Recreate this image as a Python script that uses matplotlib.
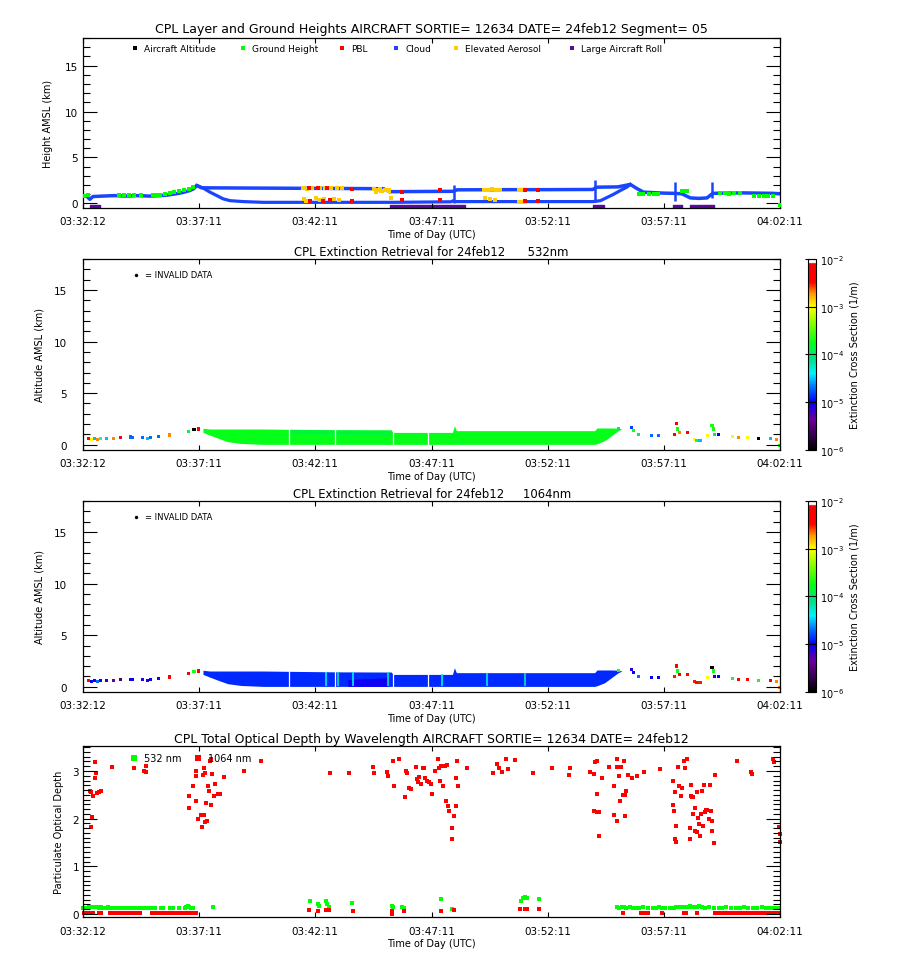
import numpy as np
import matplotlib
matplotlib.use("Agg")
import matplotlib.pyplot as plt
from matplotlib.colors import LinearSegmentedColormap, LogNorm
from matplotlib.ticker import MultipleLocator
import matplotlib.cm as cm

# time axis: seconds after 03:32:12 UTC
tick_sec = [0, 299, 599, 899, 1199, 1499, 1799]
tick_lab = ["03:32:12", "03:37:11", "03:42:11", "03:47:11", "03:52:11", "03:57:11", "04:02:11"]

# ---- panel 1 : layer heights (km)
top_t = [0, 10, 17, 25, 50, 80, 110, 140, 170, 200, 215, 240, 258, 275, 285, 293, 305, 400, 500, 600, 700, 775,
         790, 955, 965, 1100, 1200, 1315, 1326, 1380, 1412, 1430, 1446, 1500, 1525, 1545, 1567, 1590, 1610, 1625,
         1700, 1780, 1799]
top_h = [0.8, 0.75, 0.45, 0.75, 0.8, 0.85, 0.8, 0.85, 0.8, 0.85, 0.9, 1.05, 1.2, 1.4, 1.6, 1.96, 1.7, 1.68, 1.66,
         1.64, 1.62, 1.6, 1.28, 1.32, 1.48, 1.5, 1.5, 1.52, 1.77, 1.8, 2.07, 1.6, 1.23, 1.12, 1.1, 1.05, 0.6, 0.55,
         0.6, 1.1, 1.15, 1.1, 1.05]
low_t = [293, 310, 327, 344, 361, 379, 413, 465, 800, 950, 955, 960, 1315, 1335, 1352, 1369, 1386, 1404, 1412]
low_h = [1.96, 1.66, 1.23, 0.87, 0.5, 0.3, 0.2, 0.12, 0.12, 0.18, 0.3, 0.2, 0.2, 0.3, 0.65, 1.0, 1.4, 1.8, 2.07]
spike_t = [956, 1320, 1528, 1623]
spike_lo = [0.1, 0.2, 0.3, 0.6]
spike_hi = [2.0, 2.5, 2.3, 2.35]
ground_t = [2, 12, 93, 105, 118, 130, 148, 179, 190, 198, 210, 223, 235, 247, 260, 272, 284,
            1434, 1446, 1460, 1472, 1484, 1545, 1552, 1558, 1644, 1656, 1668, 1680, 1694, 1731, 1744, 1756, 1768, 1780, 1799]
ground_h = [0.83, 0.9, 0.9, 0.9, 0.92, 0.9, 0.9, 0.94, 0.94, 0.95, 1.0, 1.12, 1.27, 1.38, 1.49, 1.6, 1.74,
            1.0, 1.0, 0.98, 1.0, 1.02, 1.38, 1.35, 1.3, 1.09, 1.1, 1.08, 1.1, 1.09, 0.85, 0.83, 0.86, 0.83, 0.85, -0.2]
aer_t = [568, 578, 590, 612, 625, 640, 655, 668, 570, 575, 600, 610, 622, 636, 648, 660,
         750, 758, 765, 772, 780, 788, 755, 768, 778, 790, 794, 1035, 1045, 1055, 1065, 1075, 1038, 1050, 1062,
         1125, 1132, 1138, 1126, 1134]
aer_h = [1.65, 1.62, 1.66, 1.64, 1.65, 1.63, 1.66, 1.64, 0.45, 0.3, 0.55, 0.4, 0.5, 0.35, 0.45, 0.4,
         1.55, 1.45, 1.6, 1.35, 1.5, 1.4, 1.25, 1.3, 1.45, 1.5, 0.6, 1.5, 1.5, 1.52, 1.5, 1.5, 0.55, 0.5, 0.35,
         1.5, 1.5, 1.5, 0.2, 0.2]
pbl_t = [583, 607, 628, 693, 585, 620, 637, 693, 824, 824, 922, 922, 1141, 1175, 1141, 1175]
pbl_h = [1.65, 1.66, 1.64, 1.62, 0.3, 0.25, 0.35, 0.25, 1.23, 0.35, 1.45, 0.35, 1.5, 1.5, 0.3, 0.3]
roll_start = [17, 792, 1317, 1522, 1567]
roll_end = [43, 986, 1343, 1545, 1627]

# ---- panels 2/3 : extinction layer geometry (km) and values (1/m)
lay_t = [309, 326, 349, 373, 407, 465, 528, 649, 795, 800, 953, 958, 963, 1320, 1326, 1346, 1364, 1381, 1389]
lay_top = [1.6, 1.53, 1.53, 1.53, 1.53, 1.53, 1.5, 1.45, 1.43, 1.2, 1.2, 1.85, 1.37, 1.37, 1.63, 1.63, 1.63, 1.6, 1.55]
lay_base = [1.2, 0.95, 0.62, 0.3, 0.13, 0.04, 0.04, 0.04, 0.04, 0.04, 0.04, 0.04, 0.04, 0.04, 0.1, 0.4, 0.9, 1.37, 1.5]
ext532_layer = 1.8e-4
ext1064_layer = 1.3e-5
light532_t = [530, 650, 795]
light532_top = [1.5, 1.45, 1.43]
light532_base = [1.05, 1.0, 0.95]
light532_val = 1.4e-4
dark1064_t = [683, 740, 787]
dark1064_top = [0.7, 0.8, 0.9]
dark1064_base = [0.04, 0.04, 0.04]
dark1064_val = 9e-6
gap_t = [530, 651, 799, 889]
stripe_t = [626, 658, 695, 787, 926, 1043, 1141]
stripe_top = [1.45, 1.45, 1.44, 1.43, 1.2, 1.37, 1.37]
stripe_v = [4e-5, 6e-5, 4e-5, 6e-5, 4e-5, 5e-5, 6e-5]

sp_t = [13, 21, 29, 36, 44, 61, 79, 96, 121, 128, 154, 165, 174, 194, 223, 272, 286, 298,
        1381, 1415, 1421, 1433, 1467, 1485, 1525, 1531, 1534, 1539, 1560, 1577, 1583, 1592, 1611, 1623, 1626,
        1629, 1640, 1675, 1692, 1715, 1742, 1773, 1790, 1798]
sp_h = [0.62, 0.55, 0.62, 0.55, 0.62, 0.62, 0.62, 0.68, 0.75, 0.72, 0.72, 0.62, 0.68, 0.8, 0.95, 1.27, 1.46, 1.53,
        1.6, 1.69, 1.37, 1.04, 0.88, 0.88, 1.04, 2.02, 1.53, 1.2, 1.2, 0.55, 0.39, 0.45, 0.88, 1.85, 1.53,
        1.04, 1.04, 0.8, 0.72, 0.72, 0.62, 0.62, 0.55, -0.1]
sp532_v = [5e-3, 1e-3, 3e-5, 2e-3, 4e-5, 3e-5, 2e-3, 5e-3, 2e-5, 2e-5, 2e-5, 3e-5, 2e-5, 2e-5, 2e-3, 1.5e-4, 1e-6, 5e-3,
           8e-5, 1.5e-5, 2e-4, 1e-4, 2e-5, 2e-5, 5e-3, 5e-3, 2e-4, 2e-3, 5e-3, 1e-3, 2e-4, 3e-5, 1e-3, 2e-4, 2e-4,
           1e-4, 1e-5, 1e-3, 2e-3, 1e-3, 1e-6, 3e-5, 2e-3, 2e-4]
sp1064_v = [5e-3, 1e-5, 8e-6, 2e-5, 1e-5, 8e-6, 5e-6, 3e-6, 8e-6, 1e-5, 8e-6, 8e-6, 1e-5, 8e-6, 5e-3, 5e-3, 2e-4, 5e-3,
            2e-4, 8e-6, 1e-5, 2e-5, 1e-5, 1e-5, 3e-3, 5e-3, 2e-4, 5e-3, 5e-3, 3e-3, 5e-3, 3e-3, 1e-3, 1e-6, 2e-4,
            8e-6, 1e-5, 2e-4, 5e-3, 5e-3, 2e-4, 5e-3, 2e-3, 2e-3]

# ---- panel 4 : optical depth
od532_t = [0, 5, 10, 15, 20, 25, 30, 35, 40, 46, 52, 58, 64, 70, 76, 82, 88, 94, 100, 108, 114, 120, 130, 136, 142,
           148, 158, 164, 170, 180, 186, 200, 206, 225, 231, 248, 262, 266, 270, 274, 278, 282, 336,
           584, 605, 608, 626, 630, 634, 694, 797, 799, 824, 827, 924, 953, 1130, 1136, 1140, 1146, 1177,
           1378, 1384, 1390, 1396, 1402, 1410, 1418, 1426, 1434, 1446, 1458, 1470, 1478, 1486, 1494, 1502, 1514,
           1524, 1530, 1536, 1542, 1548, 1554, 1560, 1566, 1572, 1578, 1584, 1590, 1598, 1606, 1614, 1628, 1640,
           1650, 1660, 1672, 1684, 1694, 1706, 1716, 1728, 1740, 1752, 1762, 1772, 1782, 1790, 1797]
od532_v = [0.12, 0.13, 0.13, 0.14, 0.14, 0.15, 0.14, 0.14, 0.13, 0.14, 0.13, 0.13, 0.14, 0.13, 0.13, 0.12, 0.13,
           0.13, 0.12, 0.13, 0.12, 0.13, 0.12, 0.13, 0.12, 0.13, 0.12, 0.13, 0.12, 0.12, 0.13, 0.12, 0.13, 0.12,
           0.12, 0.12, 0.12, 0.14, 0.16, 0.15, 0.13, 0.12, 0.15,
           0.27, 0.21, 0.16, 0.27, 0.21, 0.15, 0.22, 0.17, 0.14, 0.15, 0.13, 0.31, 0.10, 0.28, 0.33, 0.36, 0.33, 0.31,
           0.14, 0.13, 0.15, 0.14, 0.13, 0.14, 0.13, 0.12, 0.13, 0.14, 0.13, 0.12, 0.13, 0.14, 0.13, 0.12, 0.13,
           0.13, 0.14, 0.15, 0.14, 0.15, 0.14, 0.15, 0.16, 0.15, 0.14, 0.15, 0.16, 0.14, 0.13, 0.14, 0.13, 0.12,
           0.13, 0.14, 0.13, 0.12, 0.13, 0.14, 0.13, 0.12, 0.13, 0.14, 0.13, 0.12, 0.13, 0.12, 0.12]
od1064_t = [17, 20, 22, 21, 26, 30, 32, 31, 36, 41, 47, 74, 130, 163, 158, 163,
            272, 274, 284, 290, 292, 290, 296, 303, 306, 311, 314, 317, 319, 309, 312, 315, 321, 324, 327, 330,
            331, 333, 338, 341, 348, 353, 364, 416, 458,
            636, 685, 747, 750, 784, 787, 799, 803, 815, 830, 834, 835, 842, 847, 858, 861, 863, 867, 871, 877,
            880, 883, 887, 892, 898, 901, 909, 915, 918, 920, 924, 929, 934, 936, 940, 942, 945, 951, 953, 957,
            961, 963, 966, 968, 990,
            1058, 1068, 1074, 1080, 1090, 1097, 1115, 1161, 1210, 1256, 1253,
            1309, 1318, 1321, 1325, 1327, 1319, 1325, 1330, 1330, 1340, 1358, 1371, 1371, 1377, 1377, 1379, 1383,
            1385, 1389, 1393, 1395, 1398, 1399, 1402, 1405, 1416, 1430, 1447, 1488,
            1521, 1522, 1525, 1527, 1531, 1527, 1529, 1534, 1537, 1544, 1546, 1550, 1552, 1558, 1565, 1566, 1568,
            1569, 1571, 1574, 1574, 1578, 1580, 1583, 1584, 1587, 1590, 1593, 1595, 1597, 1599, 1602, 1605, 1608,
            1611, 1615, 1617, 1621, 1624, 1624, 1627, 1630, 1688, 1723, 1725, 1781, 1784, 1796, 1799, 1799,
            3, 8, 14, 20, 26, 40, 47, 70, 77, 85, 92, 100, 108, 116, 121, 128, 135, 141, 147, 177, 184, 190, 196,
            203, 210, 218, 226, 234, 242, 250, 258, 266, 274, 282, 290,
            583, 605, 627, 634, 695, 797, 797, 827, 924, 956, 1127, 1139, 1146, 1177,
            1393, 1439, 1447, 1457, 1494, 1550, 1556, 1583, 1631, 1637, 1645, 1650, 1658, 1664, 1673, 1679, 1686,
            1692, 1701, 1707, 1713, 1722, 1728, 1734, 1743, 1749, 1756, 1762, 1770, 1777, 1783, 1791, 1797]
od1064_v = [2.58, 2.55, 2.03, 1.82, 2.48, 2.86, 2.95, 3.18, 2.54, 2.55, 2.57, 3.09, 3.06, 3.11, 3.0, 2.97,
            2.22, 2.48, 2.69, 2.90, 3.0, 2.36, 1.99, 2.08, 1.82, 2.08, 1.92, 2.32, 1.96, 2.92, 3.07, 2.96, 2.68,
            2.57, 3.2, 2.28, 3.25, 2.94, 2.48, 2.72, 2.52, 2.52, 2.88, 2.99, 3.2,
            2.95, 2.96, 3.08, 2.95, 2.97, 2.90, 3.21, 2.69, 3.26, 2.46, 3.0, 2.95, 2.65, 2.62, 3.09, 2.83, 2.76,
            2.88, 2.73, 3.06, 3.07, 2.86, 2.78, 2.76, 2.73, 2.52, 3.0, 3.25, 3.07, 2.78, 3.11, 2.68, 3.11, 2.36,
            3.13, 2.27, 2.17, 1.80, 1.57, 2.06, 2.86, 2.27, 3.21, 2.69, 3.07,
            2.96, 3.14, 3.07, 2.97, 3.25, 3.05, 3.23, 2.95, 3.07, 3.07, 2.92,
            2.97, 2.94, 3.18, 3.2, 2.52, 2.15, 2.14, 2.13, 1.64, 2.86, 3.09, 2.68, 2.08, 3.09, 1.94, 3.26, 2.90,
            2.38, 3.09, 2.49, 3.21, 2.06, 2.5, 2.57, 2.91, 2.86, 2.90, 2.98, 3.04,
            2.78, 2.28, 2.15, 1.57, 1.52, 2.55, 1.85, 3.09, 2.69, 2.48, 2.65, 3.2, 3.07, 3.25, 1.80, 1.57, 2.70,
            2.48, 2.45, 2.46, 2.10, 1.75, 2.22, 2.55, 1.71, 2.01, 1.89, 1.64, 2.10, 2.59, 1.85, 2.70, 2.13, 2.18,
            2.18, 1.99, 2.70, 2.17, 1.96, 1.75, 1.48, 2.92, 3.21, 2.97, 2.94, 3.25, 3.18, 1.82, 1.68, 1.5,
            0.01, 0.02, 0.01, 0.01, 0.02, 0.01, 0.01, 0.02, 0.01, 0.01, 0.02, 0.01, 0.01, 0.01, 0.02, 0.01, 0.01,
            0.02, 0.01, 0.01, 0.01, 0.02, 0.01, 0.01, 0.02, 0.01, 0.01, 0.01, 0.02, 0.01, 0.01, 0.01, 0.02, 0.01,
            0.01,
            0.08, 0.07, 0.08, 0.08, 0.07, 0.07, 0.0, 0.06, 0.07, 0.08, 0.10, 0.10, 0.10, 0.10,
            0.01, 0.01, 0.01, 0.02, 0.01, 0.01, 0.01, 0.02, 0.01, 0.01, 0.02, 0.01, 0.01, 0.01, 0.02, 0.01, 0.01,
            0.01, 0.02, 0.01, 0.01, 0.01, 0.02, 0.01, 0.01, 0.01, 0.02, 0.01, 0.01, 0.01, 0.02, 0.01, 0.01]

# IDL-like rainbow + white colour table
ext_cmap = LinearSegmentedColormap.from_list("rainbow_white", [
    (0.00, (0.0, 0.0, 0.0)), (0.08, (0.22, 0.0, 0.32)), (0.16, (0.42, 0.0, 0.62)),
    (0.25, (0.0, 0.0, 1.0)), (0.33, (0.0, 0.45, 1.0)), (0.40, (0.0, 0.95, 1.0)),
    (0.47, (0.0, 0.88, 0.55)), (0.56, (0.0, 1.0, 0.1)), (0.66, (0.5, 1.0, 0.0)),
    (0.75, (1.0, 1.0, 0.0)), (0.82, (1.0, 0.6, 0.0)), (0.88, (1.0, 0.0, 0.0)),
    (0.975, (1.0, 0.0, 0.0)), (0.985, (1.0, 1.0, 1.0)), (1.0, (1.0, 1.0, 1.0))])
norm = LogNorm(1e-6, 1e-2)

BLUE = "#1a45ff"
GREEN = "#00ff00"
YELLOW = "#ffcc00"
PURPLE = "#5a0a9a"

plt.rcParams["font.family"] = "DejaVu Sans"
fig = plt.figure(figsize=(9, 9.7), dpi=100)
L, W = 0.0925, 0.7744
ax1 = fig.add_axes([L, 0.7845, W, 0.1753])
ax2 = fig.add_axes([L, 0.5351, W, 0.1969])
ax3 = fig.add_axes([L, 0.2856, W, 0.1969])
ax4 = fig.add_axes([L, 0.0533, W, 0.1769])
cax2 = fig.add_axes([0.8974, 0.5351, 0.0093, 0.1969])
cax3 = fig.add_axes([0.8974, 0.2856, 0.0093, 0.1969])


def style(ax, ypad):
    ax.set_xlim(0, 1799)
    ax.set_xticks(tick_sec)
    ax.set_xticklabels(tick_lab)
    ax.tick_params(axis="x", direction="in", length=3.5, width=0.8, top=True, pad=6, labelsize=7.5)
    ax.tick_params(axis="y", which="major", direction="in", length=10, width=0.8, right=True, pad=ypad,
                   labelsize=7.5)
    ax.tick_params(axis="y", which="minor", direction="in", length=5, width=0.8, right=True)
    ax.set_xlabel("Time of Day (UTC)", fontsize=7, labelpad=2)
    for s in ax.spines.values():
        s.set_linewidth(0.9)


# ---- panel 1
ax1.set_ylim(-0.5, 18)
ax1.yaxis.set_major_locator(MultipleLocator(5))
ax1.yaxis.set_minor_locator(MultipleLocator(1))
style(ax1, 4)
ax1.set_ylabel("Height AMSL (km)", fontsize=7, labelpad=8)
ax1.set_title("CPL Layer and Ground Heights AIRCRAFT SORTIE= 12634 DATE= 24feb12 Segment= 05",
              fontsize=9, pad=4)
ax1.plot(top_t, top_h, color=BLUE, lw=2.5)
ax1.plot(low_t, low_h, color=BLUE, lw=2.3)
ax1.vlines(spike_t, spike_lo, spike_hi, color=BLUE, lw=1.8)
ax1.scatter(ground_t, ground_h, color=GREEN, marker="s", s=5, lw=0, zorder=3)
ax1.scatter(aer_t, aer_h, color=YELLOW, marker="s", s=7, lw=0, zorder=3)
ax1.scatter(pbl_t, pbl_h, color="red", marker="s", s=5, lw=0, zorder=4)
ax1.broken_barh(list(zip(roll_start, np.subtract(roll_end, roll_start))), (-0.5, 0.32), color=PURPLE)

leg1 = [("Aircraft Altitude", "black", 0.0736), ("Ground Height", GREEN, 0.2296), ("PBL", "red", 0.3716),
        ("Cloud", BLUE, 0.449), ("Elevated Aerosol", YELLOW, 0.535), ("Large Aircraft Roll", PURPLE, 0.7016)]
for name, col, xp in leg1:
    ax1.scatter([xp], [0.939], transform=ax1.transAxes, color=col, marker="s", s=12, lw=0, clip_on=False)
    ax1.text(xp + 0.013, 0.939, name, transform=ax1.transAxes, fontsize=6.5, va="center")

# ---- panels 2 and 3
for ax, cax, wl, lay_val, spv in [(ax2, cax2, "532nm", ext532_layer, sp532_v),
                                  (ax3, cax3, "1064nm", ext1064_layer, sp1064_v)]:
    ax.set_ylim(-0.5, 18)
    ax.yaxis.set_major_locator(MultipleLocator(5))
    ax.yaxis.set_minor_locator(MultipleLocator(1))
    style(ax, 12)
    ax.set_ylabel("Altitude AMSL (km)", fontsize=7, labelpad=6)
    gap = "      " if wl == "532nm" else "     "
    ax.set_title("CPL Extinction Retrieval for 24feb12" + gap + wl, fontsize=8.4, pad=3)
    ax.fill_between(lay_t, lay_base, lay_top, color=ext_cmap(norm(lay_val)), lw=0)
    ax.scatter(sp_t, sp_h, c=spv, cmap=ext_cmap, norm=norm, marker="s", s=5, lw=0)
    ax.scatter([0.075], [0.918], transform=ax.transAxes, color="black", s=6, lw=0)
    ax.text(0.0885, 0.918, "= INVALID DATA", transform=ax.transAxes, fontsize=6, va="center")
    cb = fig.colorbar(cm.ScalarMappable(norm=norm, cmap=ext_cmap), cax=cax)
    cb.outline.set_linewidth(0.8)
    cb.ax.tick_params(which="major", direction="in", length=8, width=0.8, labelsize=7, pad=3)
    cb.ax.tick_params(which="minor", length=0)
    cb.set_label("Extinction Cross Section (1/m)", fontsize=7, labelpad=4)

ax2.fill_between(light532_t, light532_base, light532_top, color=ext_cmap(norm(light532_val)), lw=0)
ax3.fill_between(dark1064_t, dark1064_base, dark1064_top, color=ext_cmap(norm(dark1064_val)), lw=0)
ax3.vlines(stripe_t, 0.04, stripe_top, colors=[ext_cmap(norm(v)) for v in stripe_v], lw=1.2)
for ax in (ax2, ax3):
    ax.vlines(gap_t, 0.0, 1.6, colors="white", lw=0.9)

# ---- panel 4
ax4.set_ylim(-0.07, 3.53)
ax4.yaxis.set_major_locator(MultipleLocator(1))
ax4.yaxis.set_minor_locator(MultipleLocator(0.1))
style(ax4, 3)
ax4.set_ylabel("Particulate Optical Depth", fontsize=7, labelpad=6)
ax4.set_title("CPL Total Optical Depth by Wavelength AIRCRAFT SORTIE= 12634 DATE= 24feb12", fontsize=9, pad=3)
ax4.scatter(od532_t, od532_v, color=GREEN, marker="s", s=5, lw=0, clip_on=False)
ax4.scatter(od1064_t, od1064_v, color="red", marker="s", s=5, lw=0, clip_on=False)
for name, col, xp in [("532 nm", GREEN, 0.0727), ("1064 nm", "red", 0.165)]:
    ax4.scatter([xp], [0.928], transform=ax4.transAxes, color=col, marker="s", s=22, lw=0)
    ax4.text(xp + 0.0145, 0.928, name, transform=ax4.transAxes, fontsize=7, va="center")

fig.savefig("out.png", dpi=100, facecolor="white")
